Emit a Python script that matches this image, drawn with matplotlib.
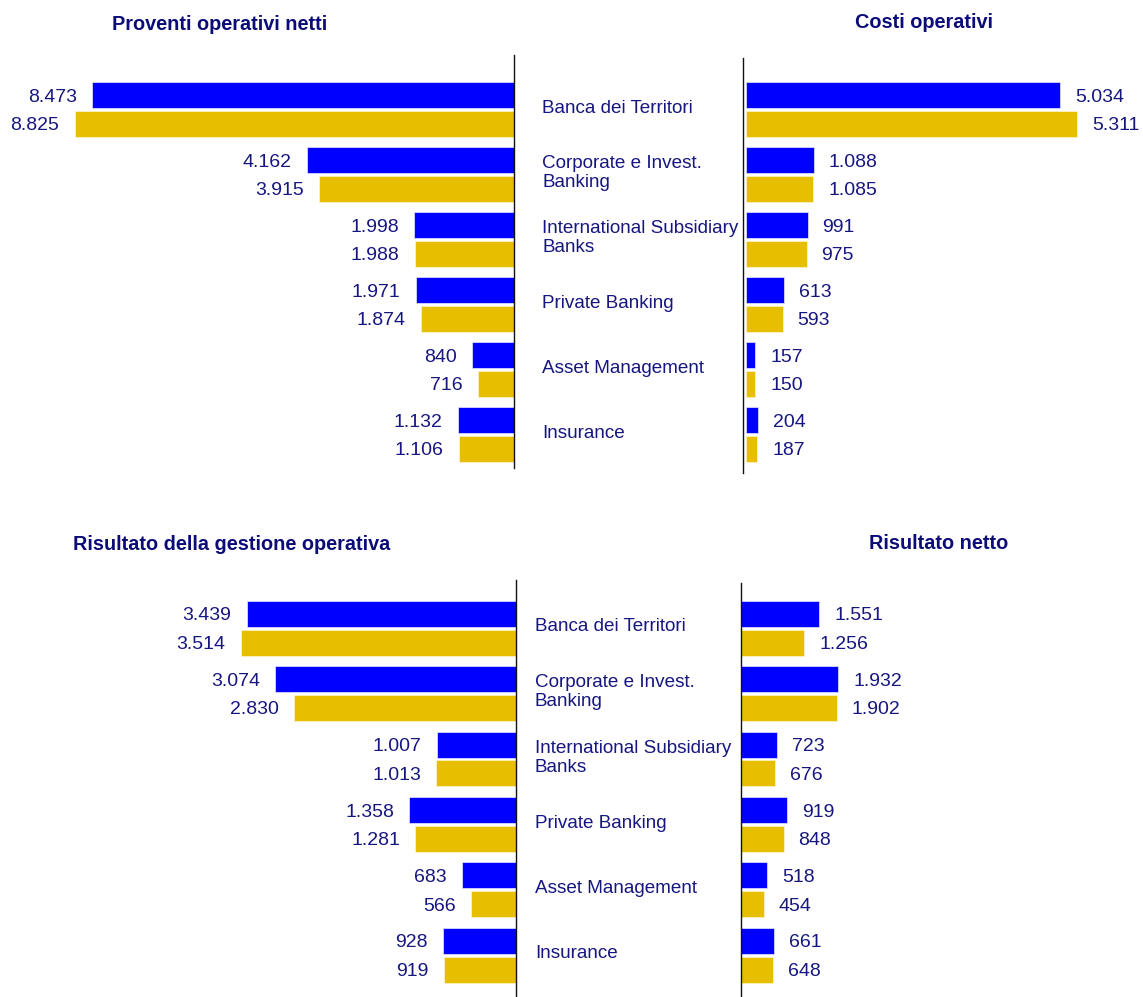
import matplotlib
matplotlib.use("Agg")
import matplotlib.pyplot as plt
from matplotlib.transforms import blended_transform_factory

# data (two series per panel: blue = first, gold = second)
categories = ['Banca dei Territori', 'Corporate e Invest.\nBanking',
              'International Subsidiary\nBanks', 'Private Banking',
              'Asset Management', 'Insurance']
proventi_blue = [8473, 4162, 1998, 1971, 840, 1132]
proventi_gold = [8825, 3915, 1988, 1874, 716, 1106]
costi_blue = [5034, 1088, 991, 613, 157, 204]
costi_gold = [5311, 1085, 975, 593, 150, 187]
gestione_blue = [3439, 3074, 1007, 1358, 683, 928]
gestione_gold = [3514, 2830, 1013, 1281, 566, 919]
netto_blue = [1551, 1932, 723, 919, 518, 661]
netto_gold = [1256, 1902, 676, 848, 454, 648]

BLUE = '#0000FF'
GOLD = '#E8BE00'
TXT = '#161680'
TITLE = '#0C0C78'

plt.rcParams['font.family'] = ['Liberation Sans', 'DejaVu Sans']

W, H = 1143, 997
fig = plt.figure(figsize=(W / 100, H / 100), dpi=100)


def fmt(v):
    return f"{v:,}".replace(',', '.')


def panel(x0, x1, y0, y1, c0, step, scale, blue, gold, side, spine_off=0):
    ax = fig.add_axes([x0 / W, 1 - y1 / H, (x1 - x0) / W, (y1 - y0) / H])
    pos = list(range(len(blue)))
    off, h = 0.22, 0.40
    ax.barh([p - off for p in pos], blue, height=h, color=BLUE,
            edgecolor='#e8e8ff', linewidth=0.5)
    ax.barh([p + off for p in pos], gold, height=h, color=GOLD,
            edgecolor='#fff4d0', linewidth=0.5)
    xmax = (x1 - x0) / scale
    ax.set_ylim((y1 - c0) / step, (y0 - c0) / step)
    for s in ax.spines.values():
        s.set_visible(False)
    ax.set_xticks([])
    ax.set_yticks([])
    if side == 'left':
        ax.set_xlim(xmax, 0)
        sp = ax.spines['right']
        pad, ha = -11, 'right'
    else:
        ax.set_xlim(0, xmax)
        sp = ax.spines['left']
        sp.set_position(('outward', spine_off))
        pad, ha = 10.8, 'left'
    sp.set_visible(True)
    sp.set_linewidth(1.0)
    sp.set_color('#111111')
    for p, a, b in zip(pos, blue, gold):
        ax.annotate(fmt(a), (a, p - off), xytext=(pad, 0), textcoords='offset points',
                    ha=ha, va='center_baseline', fontsize=14, color=TXT)
        ax.annotate(fmt(b), (b, p + off), xytext=(pad, 0), textcoords='offset points',
                    ha=ha, va='center_baseline', fontsize=14, color=TXT)
    return ax


ax1 = panel(0, 514, 55, 468, 109.5, 65.0, 0.0498, proventi_blue, proventi_gold, 'left')
ax2 = panel(745.7, 1143, 58, 473, 109.5, 65.0, 0.0624, costi_blue, costi_gold, 'right', spine_off=2.3)
ax3 = panel(0, 515.5, 580, 997, 628.2, 65.4, 0.0782, gestione_blue, gestione_gold, 'left')
ax4 = panel(740.7, 1143, 583, 997, 628.2, 65.4, 0.0506, netto_blue, netto_gold, 'right')

# category labels between the panels
for ax, xpx in [(ax1, 542), (ax3, 535)]:
    tr = blended_transform_factory(fig.transFigure, ax.transData)
    for i, c in enumerate(categories):
        ax.text(xpx / W, i - 0.02, c, transform=tr, ha='left', va='center',
                fontsize=13.6, color=TXT, linespacing=1.15, clip_on=False)

# panel titles
titles = [('Proventi operativi netti', 220, 25),
          ('Costi operativi', 924, 22),
          ('Risultato della gestione operativa', 232, 545),
          ('Risultato netto', 939, 543)]
for t, x, y in titles:
    fig.text(x / W, 1 - y / H, t, ha='center', va='center', fontsize=14.3,
             fontweight='bold', color=TITLE)

fig.savefig('out.png', dpi=100)
